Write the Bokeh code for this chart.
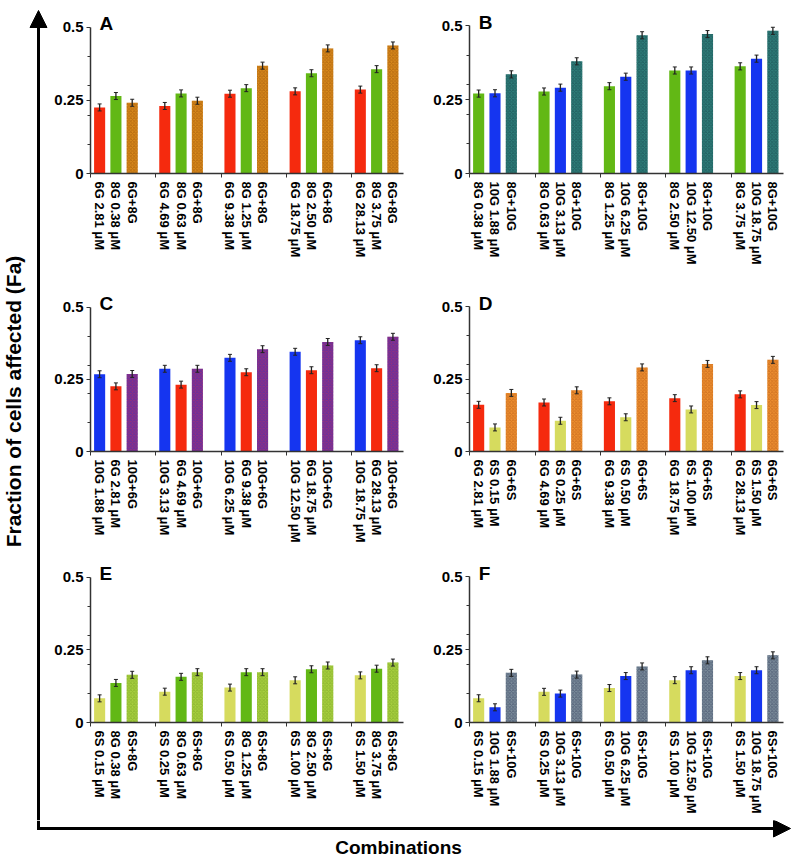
import math
from bokeh.plotting import figure
from bokeh.models import (ColumnDataSource, FixedTicker, Whisker, TeeHead, Label,
                          Arrow, NormalHead, NumeralTickFormatter)
from bokeh.layouts import row, column
from bokeh.embed import file_html
from bokeh.resources import INLINE

# ---------------- data ----------------
A_labels_1 = ["6G 2.81 μM", "6G 4.69 μM", "6G 9.38 μM", "6G 18.75 μM", "6G 28.13 μM"]
A_labels_2 = ["8G 0.38 μM", "8G 0.63 μM", "8G 1.25 μM", "8G 2.50 μM", "8G 3.75 μM"]
A_combo_label = "6G+8G"
A_values_1 = [0.226, 0.231, 0.273, 0.281, 0.287]
A_values_2 = [0.265, 0.274, 0.292, 0.343, 0.357]
A_values_combo = [0.242, 0.249, 0.369, 0.428, 0.438]

B_labels_1 = ["8G 0.38 μM", "8G 0.63 μM", "8G 1.25 μM", "8G 2.50 μM", "8G 3.75 μM"]
B_labels_2 = ["10G 1.88 μM", "10G 3.13 μM", "10G 6.25 μM", "10G 12.50 μM", "10G 18.75 μM"]
B_combo_label = "8G+10G"
B_values_1 = [0.270, 0.277, 0.295, 0.348, 0.362]
B_values_2 = [0.271, 0.290, 0.327, 0.348, 0.388]
B_values_combo = [0.335, 0.379, 0.467, 0.471, 0.482]

C_labels_1 = ["10G 1.88 μM", "10G 3.13 μM", "10G 6.25 μM", "10G 12.50 μM", "10G 18.75 μM"]
C_labels_2 = ["6G 2.81 μM", "6G 4.69 μM", "6G 9.38 μM", "6G 18.75 μM", "6G 28.13 μM"]
C_combo_label = "10G+6G"
C_values_1 = [0.268, 0.287, 0.325, 0.346, 0.386]
C_values_2 = [0.226, 0.232, 0.275, 0.282, 0.289]
C_values_combo = [0.269, 0.287, 0.355, 0.380, 0.398]

D_labels_1 = ["6G 2.81 μM", "6G 4.69 μM", "6G 9.38 μM", "6G 18.75 μM", "6G 28.13 μM"]
D_labels_2 = ["6S 0.15 μM", "6S 0.25 μM", "6S 0.50 μM", "6S 1.00 μM", "6S 1.50 μM"]
D_combo_label = "6G+6S"
D_values_1 = [0.161, 0.169, 0.173, 0.184, 0.197]
D_values_2 = [0.083, 0.106, 0.118, 0.145, 0.160]
D_values_combo = [0.202, 0.211, 0.290, 0.302, 0.316]

E_labels_1 = ["6S 0.15 μM", "6S 0.25 μM", "6S 0.50 μM", "6S 1.00 μM", "6S 1.50 μM"]
E_labels_2 = ["8G 0.38 μM", "8G 0.63 μM", "8G 1.25 μM", "8G 2.50 μM", "8G 3.75 μM"]
E_combo_label = "6S+8G"
E_values_1 = [0.083, 0.106, 0.120, 0.145, 0.162]
E_values_2 = [0.136, 0.157, 0.173, 0.183, 0.185]
E_values_combo = [0.164, 0.173, 0.173, 0.196, 0.206]

F_labels_1 = ["6S 0.15 μM", "6S 0.25 μM", "6S 0.50 μM", "6S 1.00 μM", "6S 1.50 μM"]
F_labels_2 = ["10G 1.88 μM", "10G 3.13 μM", "10G 6.25 μM", "10G 12.50 μM", "10G 18.75 μM"]
F_combo_label = "6S+10G"
F_values_1 = [0.083, 0.105, 0.118, 0.145, 0.159]
F_values_2 = [0.052, 0.099, 0.159, 0.179, 0.179]
F_values_combo = [0.170, 0.164, 0.192, 0.213, 0.230]

error_size = 0.012
y_tick_values = [0, 0.25, 0.5]
y_axis_title = "Fraction of cells affected (Fa)"
x_axis_title = "Combinations"

# ---------------- style ----------------
FONT = "Liberation Sans"
RED = "#F52A0E"
GREEN = "#62B815"
BLUE = "#1535F0"
YELLOW = "#D6DB5E"


def make_panel(letter, labels1, labels2, combo_label, v1, v2, v3,
               c1, c2, c3, hatch_color, width, bl, br, pad_top, fh, bb):
    # fh: pixel height of 0..0.5 ; pad_top: pixels between figure top and the 0.5 line
    y_end = 0.5 * (fh + pad_top) / fh
    p = figure(width=width, height=pad_top + fh + bb, x_range=(-0.56, 18.65), y_range=(0, y_end),
               toolbar_location=None, output_backend="svg",
               min_border_left=bl, min_border_right=br, min_border_top=0, min_border_bottom=bb)
    p.outline_line_color = None
    p.grid.visible = False
    n = len(v1)
    x1 = [g * 4 + 0 for g in range(n)]
    x2 = [g * 4 + 1 for g in range(n)]
    x3 = [g * 4 + 2 for g in range(n)]
    bw = 0.68
    p.vbar(x=x1, top=v1, width=bw, fill_color=c1, line_color=None)
    p.vbar(x=x2, top=v2, width=bw, fill_color=c2, line_color=None)
    p.vbar(x=x3, top=v3, width=bw, fill_color=c3, line_color=None,
           hatch_pattern="diagonal_cross", hatch_color=hatch_color,
           hatch_scale=3.5, hatch_weight=0.9, hatch_alpha=0.55)
    xs = x1 + x2 + x3
    tops = list(v1) + list(v2) + list(v3)
    src = ColumnDataSource(dict(x=xs, upper=[t + error_size for t in tops],
                                lower=[t - error_size for t in tops]))
    w = Whisker(base="x", upper="upper", lower="lower", source=src,
                upper_head=TeeHead(size=4, line_color="#222222", line_width=1),
                lower_head=TeeHead(size=4, line_color="#222222", line_width=1),
                line_color="#222222", line_width=1.3, level="overlay")
    p.add_layout(w)

    ticks = sorted(xs)
    overrides = {}
    for g in range(n):
        overrides[x1[g]] = labels1[g]
        overrides[x2[g]] = labels2[g]
        overrides[x3[g]] = combo_label
    xa = p.xaxis[0]
    xa.ticker = FixedTicker(ticks=ticks, minor_ticks=[g * 4 - 0.55 for g in range(n + 1)])
    xa.major_label_overrides = overrides
    xa.major_label_orientation = -math.pi / 2
    xa.major_label_text_font = FONT
    xa.major_label_text_font_style = "bold"
    xa.major_label_text_font_size = "13px"
    xa.major_label_text_color = "black"
    xa.major_label_standoff = 4
    xa.major_tick_out = 0
    xa.major_tick_in = 0
    xa.minor_tick_out = 4
    xa.minor_tick_in = 0
    xa.axis_line_color = "#333333"
    xa.axis_line_width = 1.5
    xa.minor_tick_line_color = "#333333"

    ya = p.yaxis[0]
    ya.bounds = (0, 0.5)
    ya.ticker = FixedTicker(ticks=y_tick_values, minor_ticks=[0.1, 0.2, 0.3, 0.4])
    ya.formatter = NumeralTickFormatter(format="0.[00]")
    ya.major_label_text_font = FONT
    ya.major_label_text_font_style = "bold"
    ya.major_label_text_font_size = "15px"
    ya.major_label_text_color = "black"
    ya.major_tick_out = 4
    ya.major_tick_in = 0
    ya.minor_tick_out = 3
    ya.minor_tick_in = 0
    ya.axis_line_color = "#333333"
    ya.axis_line_width = 1.5
    ya.major_tick_line_color = "#333333"
    ya.minor_tick_line_color = "#333333"
    ya.major_label_standoff = 3

    p.add_layout(Label(x=0.0, y=0.5 + 3.5 * 0.5 / fh, text=letter, text_font=FONT,
                       text_font_style="bold", text_font_size="19px",
                       text_baseline="alphabetic", text_align="left", text_color="black"))
    return p


pA = make_panel("A", A_labels_1, A_labels_2, A_combo_label, A_values_1, A_values_2, A_values_combo,
                RED, GREEN, "#D98A1C", "#9A5208", 372, 42, 17, 27, 147, 114)
pB = make_panel("B", B_labels_1, B_labels_2, B_combo_label, B_values_1, B_values_2, B_values_combo,
                GREEN, BLUE, "#2F7F7A", "#16434A", 380, 49, 17, 25, 148, 115)
pC = make_panel("C", C_labels_1, C_labels_2, C_combo_label, C_values_1, C_values_2, C_values_combo,
                BLUE, RED, "#92307E", "#3A30C0", 372, 42, 17, 19, 145, 106)
pD = make_panel("D", D_labels_1, D_labels_2, D_combo_label, D_values_1, D_values_2, D_values_combo,
                RED, YELLOW, "#EE9030", "#B85A14", 380, 49, 17, 18, 145, 107)
pE = make_panel("E", E_labels_1, E_labels_2, E_combo_label, E_values_1, E_values_2, E_values_combo,
                YELLOW, GREEN, "#A8D040", "#78A222", 372, 42, 17, 19, 149, 94)
pF = make_panel("F", F_labels_1, F_labels_2, F_combo_label, F_values_1, F_values_2, F_values_combo,
                YELLOW, BLUE, "#7D8E9C", "#34405E", 380, 49, 17, 18, 146, 98)

# ---------------- outer frame: big arrows and titles ----------------
lf = figure(width=48, height=820, x_range=(0, 48), y_range=(0, 820),
            toolbar_location=None, output_backend="svg", min_border=0)
lf.axis.visible = False
lf.grid.visible = False
lf.outline_line_color = None
lf.add_layout(Arrow(end=NormalHead(size=17, fill_color="black", line_color="black"),
                    x_start=38, y_start=0, x_end=38, y_end=810,
                    line_width=3, line_color="black"))
lf.add_layout(Label(x=13, y=419, text=y_axis_title, angle=math.pi / 2, text_align="center",
                    text_baseline="middle", text_font=FONT, text_font_style="bold",
                    text_font_size="21px", text_color="black"))

bf = figure(width=800, height=43, x_range=(0, 800), y_range=(0, 43),
            toolbar_location=None, output_backend="svg", min_border=0)
bf.axis.visible = False
bf.grid.visible = False
bf.outline_line_color = None
bf.add_layout(Arrow(end=None, x_start=38, y_start=43, x_end=38, y_end=33.5,
                    line_width=3, line_color="black"))
bf.add_layout(Arrow(end=NormalHead(size=17, fill_color="black", line_color="black"),
                    x_start=36.5, y_start=35, x_end=790, y_end=35,
                    line_width=3, line_color="black"))
bf.add_layout(Label(x=398, y=16, text=x_axis_title, text_align="center", text_baseline="middle",
                    text_font=FONT, text_font_style="bold", text_font_size="19px",
                    text_color="black"))

grid = column(row(pA, pB), row(pC, pD), row(pE, pF))
layout = column(row(lf, grid), bf)

open("out.html", "w").write(file_html(layout, INLINE))
